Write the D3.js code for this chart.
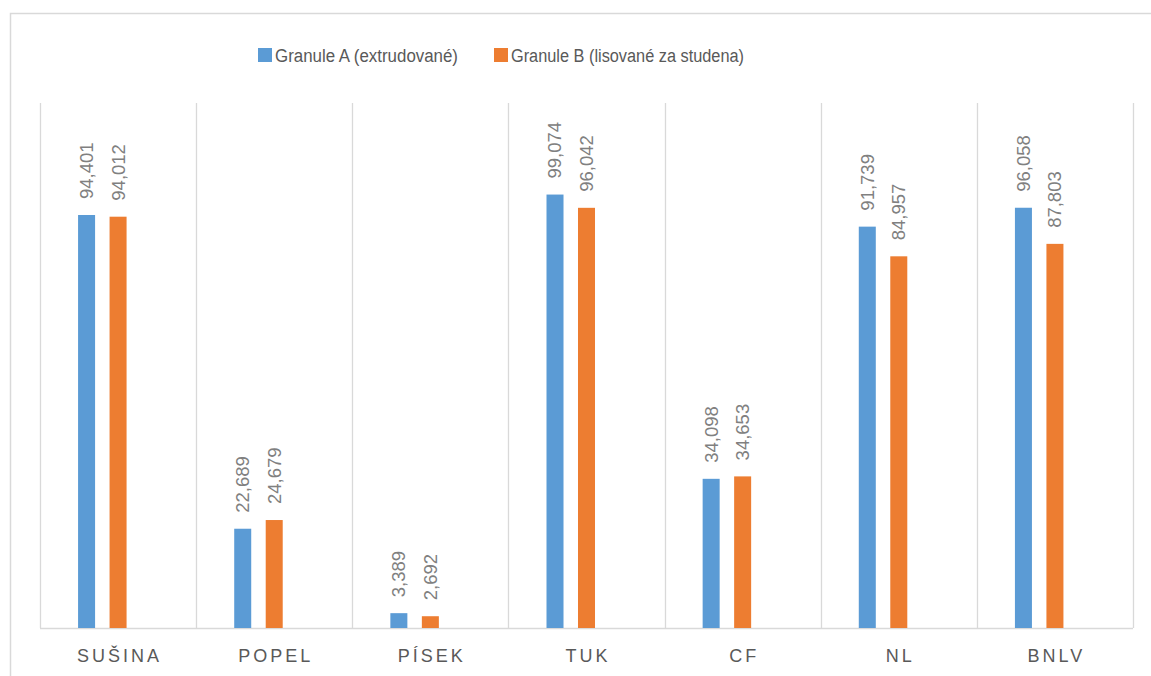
<!DOCTYPE html>
<html>
<head>
<meta charset="utf-8">
<script src="https://cdn.jsdelivr.net/npm/d3@7/dist/d3.min.js"></script>
<style>
  body { margin: 0; background: #fff; }
  text { font-family: "Liberation Sans", Arial, sans-serif; }
</style>
</head>
<body>
<div id="chart"></div>
<script>
// data
var categories = ["SUŠINA", "POPEL", "PÍSEK", "TUK", "CF", "NL", "BNLV"];
var seriesNames = ["Granule A (extrudované)", "Granule B (lisované za studena)"];
var granuleA = [94.401, 22.689, 3.389, 99.074, 34.098, 91.739, 96.058];
var granuleB = [94.012, 24.679, 2.692, 96.042, 34.653, 84.957, 87.803];
var colours = ["#5b9bd5", "#ed7d31"];

var width = 1151, height = 676;
var plot = {left: 40, right: 1133, top: 103, bottom: 628};

var svg = d3.select("#chart").append("svg")
    .attr("width", width)
    .attr("height", height);

// chart frame
svg.append("path")
    .attr("d", "M10.5," + height + "V13.5H" + width)
    .attr("fill", "none")
    .attr("stroke", "#d9d9d9")
    .attr("stroke-width", 1.5);

var x = d3.scaleBand()
    .domain(categories)
    .range([plot.left, plot.right]);

var y = d3.scaleLinear()
    .domain([0, 120])
    .range([plot.bottom, plot.top]);

// three slots per category, the third one is empty in the original
var slot = d3.scaleBand()
    .domain([0, 1, 2])
    .range([-40, 40])
    .paddingInner(0.46)
    .paddingOuter(0);

// vertical separators
var seps = d3.range(categories.length + 1).map(function(i) {
    return plot.left + i * x.step();
});
svg.selectAll(".sep")
    .data(seps)
    .enter().append("line")
    .attr("class", "sep")
    .attr("x1", function(d) { return Math.round(d) + 0.5; })
    .attr("x2", function(d) { return Math.round(d) + 0.5; })
    .attr("y1", plot.top)
    .attr("y2", plot.bottom)
    .attr("stroke", "#d9d9d9")
    .attr("stroke-width", 1.3);

// baseline
svg.append("line")
    .attr("x1", plot.left)
    .attr("x2", plot.right)
    .attr("y1", plot.bottom + 0.5)
    .attr("y2", plot.bottom + 0.5)
    .attr("stroke", "#d9d9d9")
    .attr("stroke-width", 1.5);

var series = [granuleA, granuleB];
series.forEach(function(values, s) {
    var g = svg.append("g");
    var cx = function(d, i) {
        return x(categories[i]) + x.bandwidth() / 2 + slot(s) + slot.bandwidth() / 2;
    };
    g.selectAll("rect")
        .data(values)
        .enter().append("rect")
        .attr("x", function(d, i) { return cx(d, i) - slot.bandwidth() / 2; })
        .attr("y", function(d) { return y(d); })
        .attr("width", slot.bandwidth())
        .attr("height", function(d) { return y(0) - y(d); })
        .attr("fill", colours[s]);

    g.selectAll("text")
        .data(values)
        .enter().append("text")
        .attr("transform", function(d, i) {
            return "translate(" + cx(d, i) + "," + (y(d) - 16) + ") rotate(-90)";
        })
        .attr("dy", "0.35em")
        .attr("fill", "#808080")
        .style("font-size", "18.5px")
        .text(function(d) { return d.toFixed(3).replace(".", ","); });
});

// category labels
svg.selectAll(".cat")
    .data(categories)
    .enter().append("text")
    .attr("class", "cat")
    .attr("x", function(d) { return x(d) + x.bandwidth() / 2 + 1.5; })
    .attr("y", 662)
    .attr("text-anchor", "middle")
    .attr("fill", "#595959")
    .style("font-size", "18px")
    .style("letter-spacing", "3px")
    .text(function(d) { return d; });

// legend
var legendX = [258, 494];
var legendLen = [183, 233];
var legend = svg.selectAll(".legend")
    .data(seriesNames)
    .enter().append("g")
    .attr("class", "legend")
    .attr("transform", function(d, i) { return "translate(" + legendX[i] + ",48)"; });
legend.append("rect")
    .attr("width", 14)
    .attr("height", 14)
    .attr("fill", function(d, i) { return colours[i]; });
legend.append("text")
    .attr("x", 17)
    .attr("y", 13.5)
    .attr("fill", "#595959")
    .attr("textLength", function(d, i) { return legendLen[i]; })
    .attr("lengthAdjust", "spacingAndGlyphs")
    .style("font-size", "18px")
    .text(function(d) { return d; });
</script>
</body>
</html>
